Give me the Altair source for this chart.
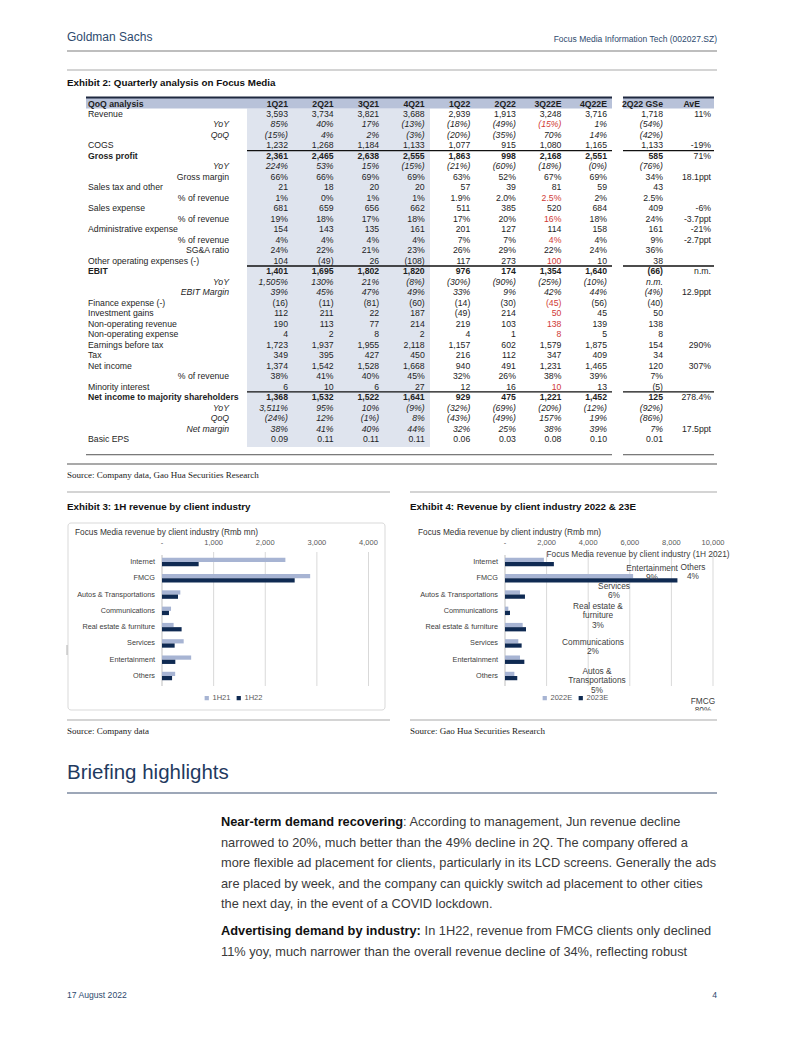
import altair as alt
import pandas as pd

# ============================== DATA ==============================
quarters = ["1Q21", "2Q21", "3Q21", "4Q21", "1Q22", "2Q22", "3Q22E", "4Q22E"]
extra_cols = ["2Q22 GSe", "AvE"]

row_labels = [
    "Revenue", "YoY", "QoQ", "COGS", "Gross profit", "YoY", "Gross margin",
    "Sales tax and other", "% of revenue", "Sales expense", "% of revenue",
    "Administrative expense", "% of revenue", "SG&A ratio",
    "Other operating expenses (-)", "EBIT", "YoY", "EBIT Margin",
    "Finance expense (-)", "Investment gains", "Non-operating revenue",
    "Non-operating expense", "Earnings before tax", "Tax", "Net income",
    "% of revenue", "Minority interest", "Net income to majority shareholders",
    "YoY", "QoQ", "Net margin", "Basic EPS",
]

v_revenue = ["3,593", "3,734", "3,821", "3,688", "2,939", "1,913", "3,248", "3,716", "1,718", "11%"]
v_rev_yoy = ["85%", "40%", "17%", "(13%)", "(18%)", "(49%)", "(15%)", "1%", "(54%)", ""]
v_rev_qoq = ["(15%)", "4%", "2%", "(3%)", "(20%)", "(35%)", "70%", "14%", "(42%)", ""]
v_cogs = ["1,232", "1,268", "1,184", "1,133", "1,077", "915", "1,080", "1,165", "1,133", "-19%"]
v_gp = ["2,361", "2,465", "2,638", "2,555", "1,863", "998", "2,168", "2,551", "585", "71%"]
v_gp_yoy = ["224%", "53%", "15%", "(15%)", "(21%)", "(60%)", "(18%)", "(0%)", "(76%)", ""]
v_gm = ["66%", "66%", "69%", "69%", "63%", "52%", "67%", "69%", "34%", "18.1ppt"]
v_tax_other = ["21", "18", "20", "20", "57", "39", "81", "59", "43", ""]
v_tax_pct = ["1%", "0%", "1%", "1%", "1.9%", "2.0%", "2.5%", "2%", "2.5%", ""]
v_sales = ["681", "659", "656", "662", "511", "385", "520", "684", "409", "-6%"]
v_sales_pct = ["19%", "18%", "17%", "18%", "17%", "20%", "16%", "18%", "24%", "-3.7ppt"]
v_admin = ["154", "143", "135", "161", "201", "127", "114", "158", "161", "-21%"]
v_admin_pct = ["4%", "4%", "4%", "4%", "7%", "7%", "4%", "4%", "9%", "-2.7ppt"]
v_sga = ["24%", "22%", "21%", "23%", "26%", "29%", "22%", "24%", "36%", ""]
v_other = ["104", "(49)", "26", "(108)", "117", "273", "100", "10", "38", ""]
v_ebit = ["1,401", "1,695", "1,802", "1,820", "976", "174", "1,354", "1,640", "(66)", "n.m."]
v_ebit_yoy = ["1,505%", "130%", "21%", "(8%)", "(30%)", "(90%)", "(25%)", "(10%)", "n.m.", ""]
v_ebit_m = ["39%", "45%", "47%", "49%", "33%", "9%", "42%", "44%", "(4%)", "12.9ppt"]
v_fin = ["(16)", "(11)", "(81)", "(60)", "(14)", "(30)", "(45)", "(56)", "(40)", ""]
v_inv = ["112", "211", "22", "187", "(49)", "214", "50", "45", "50", ""]
v_nonop_rev = ["190", "113", "77", "214", "219", "103", "138", "139", "138", ""]
v_nonop_exp = ["4", "2", "8", "2", "4", "1", "8", "5", "8", ""]
v_ebt = ["1,723", "1,937", "1,955", "2,118", "1,157", "602", "1,579", "1,875", "154", "290%"]
v_tax = ["349", "395", "427", "450", "216", "112", "347", "409", "34", ""]
v_ni = ["1,374", "1,542", "1,528", "1,668", "940", "491", "1,231", "1,465", "120", "307%"]
v_ni_pct = ["38%", "41%", "40%", "45%", "32%", "26%", "38%", "39%", "7%", ""]
v_minority = ["6", "10", "6", "27", "12", "16", "10", "13", "(5)", ""]
v_nim = ["1,368", "1,532", "1,522", "1,641", "929", "475", "1,221", "1,452", "125", "278.4%"]
v_nim_yoy = ["3,511%", "95%", "10%", "(9%)", "(32%)", "(69%)", "(20%)", "(12%)", "(92%)", ""]
v_nim_qoq = ["(24%)", "12%", "(1%)", "8%", "(43%)", "(49%)", "157%", "19%", "(86%)", ""]
v_net_margin = ["38%", "41%", "40%", "44%", "32%", "25%", "38%", "39%", "7%", "17.5ppt"]
v_eps = ["0.09", "0.11", "0.11", "0.11", "0.06", "0.03", "0.08", "0.10", "0.01", ""]

table_rows = [
    v_revenue, v_rev_yoy, v_rev_qoq, v_cogs, v_gp, v_gp_yoy, v_gm, v_tax_other,
    v_tax_pct, v_sales, v_sales_pct, v_admin, v_admin_pct, v_sga, v_other,
    v_ebit, v_ebit_yoy, v_ebit_m, v_fin, v_inv, v_nonop_rev, v_nonop_exp,
    v_ebt, v_tax, v_ni, v_ni_pct, v_minority, v_nim, v_nim_yoy, v_nim_qoq,
    v_net_margin, v_eps,
]

industries = ["Internet", "FMCG", "Autos & Transportations", "Communications",
              "Real estate & furniture", "Services", "Entertainment", "Others"]
rev_1h21 = [2390, 2870, 355, 175, 225, 420, 565, 255]
rev_1h22 = [710, 2570, 310, 135, 380, 245, 258, 195]
rev_2022e = [1870, 6160, 720, 160, 850, 640, 720, 450]
rev_2023e = [2350, 8290, 960, 240, 1010, 800, 930, 590]

ticks_ex3 = [0, 1000, 2000, 3000, 4000]
tick_text_ex3 = ["-", "1,000", "2,000", "3,000", "4,000"]
ticks_ex4 = [0, 2000, 4000, 6000, 8000, 10000]
tick_text_ex4 = ["-", "2,000", "4,000", "6,000", "8,000", "10,000"]

pie_title = "Focus Media revenue by client industry (1H 2021)"
pie_segments = [["Entertainment"], ["Others"], ["Services"], ["Real estate &", "furniture"],
                ["Communications"], ["Autos &", "Transportations"], ["FMCG"]]
pie_shares = ["9%", "4%", "6%", "3%", "2%", "5%", "80%"]

para_lines = [
    ("Near-term demand recovering", ": According to management, Jun revenue decline"),
    ("", "narrowed to 20%, much better than the 49% decline in 2Q. The company offered a"),
    ("", "more flexible ad placement for clients, particularly in its LCD screens. Generally the ads"),
    ("", "are placed by week, and the company can quickly switch ad placement to other cities"),
    ("", "the next day, in the event of a COVID lockdown."),
    ("Advertising demand by industry:", "In 1H22, revenue from FMCG clients only declined"),
    ("", "11% yoy, much narrower than the overall revenue decline of 34%, reflecting robust"),
]

# ============================== STYLE / LAYOUT ==============================
BOLD_ROWS = {5, 16, 28}
ITALIC_ROWS = {2, 3, 6, 17, 18, 29, 30, 31}
INDENT_ROWS = {2, 3, 6, 7, 9, 11, 13, 14, 17, 18, 26, 29, 30, 31}
RED_CELLS = {(2, 6), (9, 6), (11, 6), (13, 6), (15, 6), (19, 6), (20, 6), (21, 6), (22, 6), (27, 6)}

SANS = "'Liberation Sans', Arial, Helvetica, sans-serif"
SERIF = "'Liberation Serif', 'Times New Roman', serif"
INK = "#1e1e1e"
NAVY = "#2e4a6e"
RED = "#d03a36"
LIGHT = "#a7b4d3"
DARK = "#0f2a52"
TFS = 8.7
PFS = 12.8  # paragraph font size

OX = OY = 8
W, H = 786, 1010
one = pd.DataFrame({"k": [0]})


def T(s, x, y, size, font=SANS, color=INK, weight="normal", style="normal", align="left"):
    return alt.Chart(one).mark_text(
        align=align, baseline="middle", font=font, fontSize=size,
        fontWeight=weight, fontStyle=style, color=color,
    ).encode(x=alt.value(x - OX), y=alt.value(y - OY), text=alt.value(s))


def HL(x1, x2, y, color, width=1.0):
    return alt.Chart(one).mark_rule(color=color, strokeWidth=width).encode(
        x=alt.value(x1 - OX), x2=alt.value(x2 - OX), y=alt.value(y - OY))


def VL(x, y1, y2, color, width=1.0):
    return alt.Chart(one).mark_rule(color=color, strokeWidth=width).encode(
        x=alt.value(x - OX), y=alt.value(y1 - OY), y2=alt.value(y2 - OY))


def RECT(x1, x2, y1, y2, fill, stroke=None, radius=0):
    kw = dict(fill=fill, cornerRadius=radius)
    if stroke:
        kw.update(stroke=stroke, strokeWidth=1)
    return alt.Chart(one).mark_rect(**kw).encode(
        x=alt.value(x1 - OX), x2=alt.value(x2 - OX),
        y=alt.value(y1 - OY), y2=alt.value(y2 - OY))


L = []

# ---------------- page header ----------------
L.append(T("Goldman Sachs", 67, 37, 12, color=NAVY))
L.append(T("Focus Media Information Tech (002027.SZ)", 717, 39, 8.5, color=NAVY, align="right"))
L.append(HL(67, 717, 51, "#a9a9a9", 1.5))
L.append(HL(67, 717, 70, "#a9a9a9", 1.2))
L.append(T("Exhibit 2: Quarterly analysis on Focus Media", 67, 83, 9.8, weight="bold", color="#111"))

# ---------------- table ----------------
TX = alt.Scale(domain=[0, 7, 8, 9], range=[288 - OX, 607 - OX, 663 - OX, 711 - OX])
TY = alt.Scale(domain=[0, 32], range=[103.5 - OY, 439 - OY])

L.append(RECT(247, 430, 108.5, 447, "#dfe4ee"))
for a, b in ((86, 612), (623, 714)):
    L.append(RECT(a, b, 97, 108.5, "#b8c2d9"))
    L.append(HL(a, b, 97.6, "#1f2940", 2))

head_df = pd.DataFrame({"r": 0, "c": list(range(9)), "t": quarters + extra_cols[:1]})
L.append(alt.Chart(head_df).mark_text(align="right", baseline="middle", font=SANS, fontSize=TFS,
                                      fontWeight="bold", color=INK).encode(
    x=alt.X("c:Q", scale=TX, axis=None), y=alt.Y("r:Q", scale=TY, axis=None), text="t:N"))
L.append(T(extra_cols[1], 700, 103.5, TFS, weight="bold", align="right"))
L.append(T("QoQ analysis", 88, 103.5, TFS, weight="bold"))

cells = []
for r, vals in enumerate(table_rows, start=1):
    for c, t in enumerate(vals):
        if not t:
            continue
        kind = "normal"
        if c < 9:
            if r in BOLD_ROWS:
                kind = "bold"
            elif r in ITALIC_ROWS:
                kind = "italic"
        cells.append({"r": r, "c": c, "t": t, "kind": kind,
                      "ink": "r" if (r, c) in RED_CELLS else "k"})
cells = pd.DataFrame(cells)

for kind in ("normal", "italic", "bold"):
    sub = cells[cells.kind == kind]
    L.append(alt.Chart(sub).mark_text(
        align="right", baseline="middle", font=SANS, fontSize=TFS,
        fontWeight="bold" if kind == "bold" else "normal",
        fontStyle="italic" if kind == "italic" else "normal").encode(
        x=alt.X("c:Q", scale=TX, axis=None),
        y=alt.Y("r:Q", scale=TY, axis=None),
        text="t:N",
        color=alt.Color("ink:N", scale=alt.Scale(domain=["k", "r"], range=[INK, RED]), legend=None)))

labels = pd.DataFrame([
    {"r": r, "label": lab, "indent": int(r in INDENT_ROWS),
     "kind": "bold" if r in BOLD_ROWS else ("italic" if r in ITALIC_ROWS else "normal")}
    for r, lab in enumerate(row_labels, start=1)])
for ind in (0, 1):
    for kind in ("normal", "bold", "italic"):
        sub = labels[(labels.indent == ind) & (labels.kind == kind)]
        if sub.empty:
            continue
        L.append(alt.Chart(sub).mark_text(
            align="left" if ind == 0 else "right", baseline="middle", font=SANS, fontSize=TFS,
            fontWeight="bold" if kind == "bold" else "normal",
            fontStyle="italic" if kind == "italic" else "normal", color=INK).encode(
            x=alt.value((88 if ind == 0 else 229) - OX),
            y=alt.Y("r:Q", scale=TY, axis=None),
            text="label:N"))

sep_df = pd.DataFrame({"r": [r - 0.5 for r in sorted(BOLD_ROWS)]})
for a, b in ((247, 612), (623, 714)):
    L.append(alt.Chart(sep_df).mark_rule(color="#111", strokeWidth=1.3).encode(
        y=alt.Y("r:Q", scale=TY, axis=None), x=alt.value(a - OX), x2=alt.value(b - OX)))
end_df = pd.DataFrame({"r": [33.5]})
for a, b in ((86, 612), (623, 714)):
    L.append(alt.Chart(end_df).mark_rule(color="#555", strokeWidth=1).encode(
        y=alt.Y("r:Q", scale=TY, axis=None), x=alt.value(a - OX), x2=alt.value(b - OX)))

L.append(HL(67, 717, 464, "#a9a9a9", 2))
L.append(T("Source: Company data, Gao Hua Securities Research", 67, 474.5, 9, font=SERIF, color="#222"))

# ---------------- exhibits 3 & 4 ----------------
L.append(HL(67, 390, 492, "#a9a9a9", 1))
L.append(HL(410, 717, 492, "#a9a9a9", 1))
L.append(T("Exhibit 3: 1H revenue by client industry", 67, 507, 9.8, weight="bold", color="#111"))
L.append(T("Exhibit 4: Revenue by client industry 2022 & 23E", 410, 507, 9.8, weight="bold", color="#111"))
L.append(RECT(68, 385, 523, 710, "white", stroke="#d9d9d9", radius=3))

CAT_Y0, CAT_Y1 = 562, 676
GRID_TOP, GRID_BOT = 552, 686


def industry_panel(a_vals, b_vals, names, dom_max, x_left, x_right, ticks, tick_text,
                   title_x, label_right, legend_x):
    XS = alt.Scale(domain=[0, dom_max], range=[x_left - OX, x_right - OX])
    YS = alt.Scale(domain=[0, 7], range=[CAT_Y0 - OY, CAT_Y1 - OY])
    n = len(industries)
    long = pd.DataFrame({
        "i": list(range(n)) * 2,
        "series": [names[0]] * n + [names[1]] * n,
        "v": list(a_vals) + list(b_vals),
    })
    tick_df = pd.DataFrame({"v": ticks, "lab": tick_text})
    cat_df = pd.DataFrame({"i": list(range(n)), "industry": industries})
    out = [
        T("Focus Media revenue by client industry (Rmb mn)", title_x, 533, 8.3, color="#333"),
        alt.Chart(tick_df).transform_filter("datum.v > 0").mark_rule(color="#d9d9d9", strokeWidth=1).encode(
            x=alt.X("v:Q", scale=XS, axis=None), y=alt.value(GRID_TOP - OY), y2=alt.value(GRID_BOT - OY)),
        alt.Chart(tick_df).transform_filter("datum.v == 0").mark_rule(color="#bfbfbf", strokeWidth=1).encode(
            x=alt.X("v:Q", scale=XS, axis=None), y=alt.value(GRID_TOP + 3 - OY), y2=alt.value(GRID_BOT - OY)),
        alt.Chart(tick_df).mark_text(baseline="middle", align="center", font=SANS, fontSize=7.5,
                                     color="#595959").encode(
            x=alt.X("v:Q", scale=XS, axis=None), y=alt.value(543 - OY), text="lab:N"),
        alt.Chart(cat_df).mark_text(baseline="middle", align="right", font=SANS, fontSize=7.3,
                                    color="#404040").encode(
            x=alt.value(label_right - OX), y=alt.Y("i:Q", scale=YS, axis=None), text="industry:N"),
        alt.Chart(long).transform_calculate(
            y0=f"datum.i + (datum.series == '{names[0]}' ? -0.26 : 0)",
            y1=f"datum.i + (datum.series == '{names[0]}' ? 0 : 0.26)",
            zero="0",
        ).mark_rect().encode(
            x=alt.X("zero:Q", scale=XS, axis=None), x2="v:Q",
            y=alt.Y("y0:Q", scale=YS, axis=None), y2="y1:Q",
            color=alt.Color("series:N", scale=alt.Scale(domain=names, range=[LIGHT, DARK]),
                            legend=alt.Legend(orient="none", legendX=legend_x - OX, legendY=694 - OY,
                                              direction="horizontal", title=None, symbolType="square",
                                              symbolSize=18, symbolStrokeWidth=0, labelFont=SANS,
                                              labelFontSize=7.5, labelColor="#595959", labelOffset=2,
                                              columnPadding=4, padding=0)),
        ),
    ]
    return out


L += industry_panel(rev_1h21, rev_1h22, ["1H21", "1H22"], 4000, 162, 368.5, ticks_ex3, tick_text_ex3,
                    75, 155, 203)
L += industry_panel(rev_2022e, rev_2023e, ["2022E", "2023E"], 10000, 505, 713, ticks_ex4, tick_text_ex4,
                    418, 498, 541)

# leaked pie-chart labels over exhibit 4
PIE_POS = [(652, 569), (693, 568), (614, 587), (598, 607), (593, 643), (597, 672), (703, 702)]
L.append(T(pie_title, 638, 555, 8.3, color="#404040", align="center"))
for seg, share, (cx, cy) in zip(pie_segments, pie_shares, PIE_POS):
    lines = seg + [share]
    for k, line in enumerate(lines):
        L.append(T(line, cx, cy + 9.3 * k, 8.3, color="#404040", align="center"))
L.append(RECT(680, 720, 710.5, 718, "white"))

L.append(HL(67, 390, 720, "#a9a9a9", 1))
L.append(HL(410, 717, 720, "#a9a9a9", 1))
L.append(T("Source: Company data", 67, 731, 9, font=SERIF, color="#222"))
L.append(T("Source: Gao Hua Securities Research", 410, 731, 9, font=SERIF, color="#222"))
L.append(VL(67, 645, 655, "#b0b0b0", 1))

# ---------------- briefing highlights ----------------
L.append(T("Briefing highlights", 67, 773, 20.5, color="#1f3a60"))
L.append(HL(67, 717, 793, "#7d8aa0", 1.5))
PARA_Y = [822, 842.5, 863, 883.5, 904, 931, 951.5]
BOLD_END = {"Near-term demand recovering": 403, "Advertising demand by industry:": 421}
for (bold, rest), y in zip(para_lines, PARA_Y):
    x = 221
    if bold:
        L.append(T(bold, 221, y, PFS, weight="bold", color="#111"))
        x = BOLD_END[bold] + (0 if rest.startswith(":") else 3.6)
    L.append(T(rest, x, y, PFS, color="#3a3a3a"))

# ---------------- footer ----------------
L.append(T("17 August 2022", 67, 995, 8.6, color=NAVY))
L.append(T("4", 717, 995, 8.6, color=NAVY, align="right"))

chart = alt.layer(*L).properties(
    width=W, height=H, padding=0, background="white",
    autosize=alt.AutoSizeParams(type="none"),
).resolve_scale(x="independent", y="independent", color="independent").configure_view(stroke=None)

chart.save("out.html", embed_options={"renderer": "svg", "actions": False})
